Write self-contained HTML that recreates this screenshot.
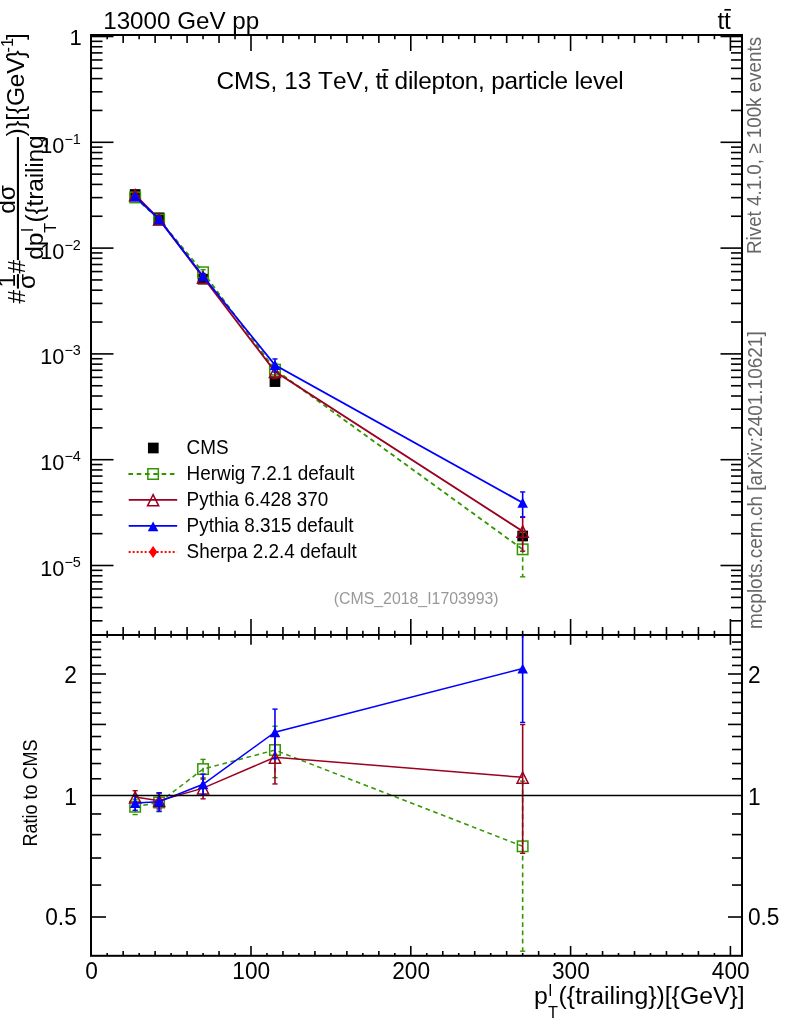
<!DOCTYPE html>
<html lang="en">
<head>
<meta charset="utf-8">
<title>CMS, 13 TeV, tt dilepton, particle level</title>
<style>
html,body{margin:0;padding:0;background:#fff;}
body{width:786px;height:1024px;overflow:hidden;}
svg{display:block;}
text{white-space:pre;font-kerning:none;}
</style>
</head>
<body>
<svg width="786" height="1024" viewBox="0 0 786 1024" font-family='"Liberation Sans", "DejaVu Sans", sans-serif'>
<rect x="0" y="0" width="786" height="1024" fill="#fff"/>
<g id="ticks">
<line x1="91" y1="36.5" x2="113.5" y2="36.5" stroke="#000" stroke-width="1.6"/>
<line x1="742" y1="36.5" x2="720.5" y2="36.5" stroke="#000" stroke-width="1.6"/>
<line x1="91" y1="142.3" x2="113.5" y2="142.3" stroke="#000" stroke-width="1.6"/>
<line x1="742" y1="142.3" x2="720.5" y2="142.3" stroke="#000" stroke-width="1.6"/>
<line x1="91" y1="110.45" x2="102.5" y2="110.45" stroke="#000" stroke-width="1.6"/>
<line x1="742" y1="110.45" x2="731" y2="110.45" stroke="#000" stroke-width="1.6"/>
<line x1="91" y1="91.82" x2="102.5" y2="91.82" stroke="#000" stroke-width="1.6"/>
<line x1="742" y1="91.82" x2="731" y2="91.82" stroke="#000" stroke-width="1.6"/>
<line x1="91" y1="78.6" x2="102.5" y2="78.6" stroke="#000" stroke-width="1.6"/>
<line x1="742" y1="78.6" x2="731" y2="78.6" stroke="#000" stroke-width="1.6"/>
<line x1="91" y1="68.35" x2="102.5" y2="68.35" stroke="#000" stroke-width="1.6"/>
<line x1="742" y1="68.35" x2="731" y2="68.35" stroke="#000" stroke-width="1.6"/>
<line x1="91" y1="59.97" x2="102.5" y2="59.97" stroke="#000" stroke-width="1.6"/>
<line x1="742" y1="59.97" x2="731" y2="59.97" stroke="#000" stroke-width="1.6"/>
<line x1="91" y1="52.89" x2="102.5" y2="52.89" stroke="#000" stroke-width="1.6"/>
<line x1="742" y1="52.89" x2="731" y2="52.89" stroke="#000" stroke-width="1.6"/>
<line x1="91" y1="46.75" x2="102.5" y2="46.75" stroke="#000" stroke-width="1.6"/>
<line x1="742" y1="46.75" x2="731" y2="46.75" stroke="#000" stroke-width="1.6"/>
<line x1="91" y1="41.34" x2="102.5" y2="41.34" stroke="#000" stroke-width="1.6"/>
<line x1="742" y1="41.34" x2="731" y2="41.34" stroke="#000" stroke-width="1.6"/>
<line x1="91" y1="248.1" x2="113.5" y2="248.1" stroke="#000" stroke-width="1.6"/>
<line x1="742" y1="248.1" x2="720.5" y2="248.1" stroke="#000" stroke-width="1.6"/>
<line x1="91" y1="216.25" x2="102.5" y2="216.25" stroke="#000" stroke-width="1.6"/>
<line x1="742" y1="216.25" x2="731" y2="216.25" stroke="#000" stroke-width="1.6"/>
<line x1="91" y1="197.62" x2="102.5" y2="197.62" stroke="#000" stroke-width="1.6"/>
<line x1="742" y1="197.62" x2="731" y2="197.62" stroke="#000" stroke-width="1.6"/>
<line x1="91" y1="184.4" x2="102.5" y2="184.4" stroke="#000" stroke-width="1.6"/>
<line x1="742" y1="184.4" x2="731" y2="184.4" stroke="#000" stroke-width="1.6"/>
<line x1="91" y1="174.15" x2="102.5" y2="174.15" stroke="#000" stroke-width="1.6"/>
<line x1="742" y1="174.15" x2="731" y2="174.15" stroke="#000" stroke-width="1.6"/>
<line x1="91" y1="165.77" x2="102.5" y2="165.77" stroke="#000" stroke-width="1.6"/>
<line x1="742" y1="165.77" x2="731" y2="165.77" stroke="#000" stroke-width="1.6"/>
<line x1="91" y1="158.69" x2="102.5" y2="158.69" stroke="#000" stroke-width="1.6"/>
<line x1="742" y1="158.69" x2="731" y2="158.69" stroke="#000" stroke-width="1.6"/>
<line x1="91" y1="152.55" x2="102.5" y2="152.55" stroke="#000" stroke-width="1.6"/>
<line x1="742" y1="152.55" x2="731" y2="152.55" stroke="#000" stroke-width="1.6"/>
<line x1="91" y1="147.14" x2="102.5" y2="147.14" stroke="#000" stroke-width="1.6"/>
<line x1="742" y1="147.14" x2="731" y2="147.14" stroke="#000" stroke-width="1.6"/>
<line x1="91" y1="353.9" x2="113.5" y2="353.9" stroke="#000" stroke-width="1.6"/>
<line x1="742" y1="353.9" x2="720.5" y2="353.9" stroke="#000" stroke-width="1.6"/>
<line x1="91" y1="322.05" x2="102.5" y2="322.05" stroke="#000" stroke-width="1.6"/>
<line x1="742" y1="322.05" x2="731" y2="322.05" stroke="#000" stroke-width="1.6"/>
<line x1="91" y1="303.42" x2="102.5" y2="303.42" stroke="#000" stroke-width="1.6"/>
<line x1="742" y1="303.42" x2="731" y2="303.42" stroke="#000" stroke-width="1.6"/>
<line x1="91" y1="290.2" x2="102.5" y2="290.2" stroke="#000" stroke-width="1.6"/>
<line x1="742" y1="290.2" x2="731" y2="290.2" stroke="#000" stroke-width="1.6"/>
<line x1="91" y1="279.95" x2="102.5" y2="279.95" stroke="#000" stroke-width="1.6"/>
<line x1="742" y1="279.95" x2="731" y2="279.95" stroke="#000" stroke-width="1.6"/>
<line x1="91" y1="271.57" x2="102.5" y2="271.57" stroke="#000" stroke-width="1.6"/>
<line x1="742" y1="271.57" x2="731" y2="271.57" stroke="#000" stroke-width="1.6"/>
<line x1="91" y1="264.49" x2="102.5" y2="264.49" stroke="#000" stroke-width="1.6"/>
<line x1="742" y1="264.49" x2="731" y2="264.49" stroke="#000" stroke-width="1.6"/>
<line x1="91" y1="258.35" x2="102.5" y2="258.35" stroke="#000" stroke-width="1.6"/>
<line x1="742" y1="258.35" x2="731" y2="258.35" stroke="#000" stroke-width="1.6"/>
<line x1="91" y1="252.94" x2="102.5" y2="252.94" stroke="#000" stroke-width="1.6"/>
<line x1="742" y1="252.94" x2="731" y2="252.94" stroke="#000" stroke-width="1.6"/>
<line x1="91" y1="459.7" x2="113.5" y2="459.7" stroke="#000" stroke-width="1.6"/>
<line x1="742" y1="459.7" x2="720.5" y2="459.7" stroke="#000" stroke-width="1.6"/>
<line x1="91" y1="427.85" x2="102.5" y2="427.85" stroke="#000" stroke-width="1.6"/>
<line x1="742" y1="427.85" x2="731" y2="427.85" stroke="#000" stroke-width="1.6"/>
<line x1="91" y1="409.22" x2="102.5" y2="409.22" stroke="#000" stroke-width="1.6"/>
<line x1="742" y1="409.22" x2="731" y2="409.22" stroke="#000" stroke-width="1.6"/>
<line x1="91" y1="396" x2="102.5" y2="396" stroke="#000" stroke-width="1.6"/>
<line x1="742" y1="396" x2="731" y2="396" stroke="#000" stroke-width="1.6"/>
<line x1="91" y1="385.75" x2="102.5" y2="385.75" stroke="#000" stroke-width="1.6"/>
<line x1="742" y1="385.75" x2="731" y2="385.75" stroke="#000" stroke-width="1.6"/>
<line x1="91" y1="377.37" x2="102.5" y2="377.37" stroke="#000" stroke-width="1.6"/>
<line x1="742" y1="377.37" x2="731" y2="377.37" stroke="#000" stroke-width="1.6"/>
<line x1="91" y1="370.29" x2="102.5" y2="370.29" stroke="#000" stroke-width="1.6"/>
<line x1="742" y1="370.29" x2="731" y2="370.29" stroke="#000" stroke-width="1.6"/>
<line x1="91" y1="364.15" x2="102.5" y2="364.15" stroke="#000" stroke-width="1.6"/>
<line x1="742" y1="364.15" x2="731" y2="364.15" stroke="#000" stroke-width="1.6"/>
<line x1="91" y1="358.74" x2="102.5" y2="358.74" stroke="#000" stroke-width="1.6"/>
<line x1="742" y1="358.74" x2="731" y2="358.74" stroke="#000" stroke-width="1.6"/>
<line x1="91" y1="565.5" x2="113.5" y2="565.5" stroke="#000" stroke-width="1.6"/>
<line x1="742" y1="565.5" x2="720.5" y2="565.5" stroke="#000" stroke-width="1.6"/>
<line x1="91" y1="533.65" x2="102.5" y2="533.65" stroke="#000" stroke-width="1.6"/>
<line x1="742" y1="533.65" x2="731" y2="533.65" stroke="#000" stroke-width="1.6"/>
<line x1="91" y1="515.02" x2="102.5" y2="515.02" stroke="#000" stroke-width="1.6"/>
<line x1="742" y1="515.02" x2="731" y2="515.02" stroke="#000" stroke-width="1.6"/>
<line x1="91" y1="501.8" x2="102.5" y2="501.8" stroke="#000" stroke-width="1.6"/>
<line x1="742" y1="501.8" x2="731" y2="501.8" stroke="#000" stroke-width="1.6"/>
<line x1="91" y1="491.55" x2="102.5" y2="491.55" stroke="#000" stroke-width="1.6"/>
<line x1="742" y1="491.55" x2="731" y2="491.55" stroke="#000" stroke-width="1.6"/>
<line x1="91" y1="483.17" x2="102.5" y2="483.17" stroke="#000" stroke-width="1.6"/>
<line x1="742" y1="483.17" x2="731" y2="483.17" stroke="#000" stroke-width="1.6"/>
<line x1="91" y1="476.09" x2="102.5" y2="476.09" stroke="#000" stroke-width="1.6"/>
<line x1="742" y1="476.09" x2="731" y2="476.09" stroke="#000" stroke-width="1.6"/>
<line x1="91" y1="469.95" x2="102.5" y2="469.95" stroke="#000" stroke-width="1.6"/>
<line x1="742" y1="469.95" x2="731" y2="469.95" stroke="#000" stroke-width="1.6"/>
<line x1="91" y1="464.54" x2="102.5" y2="464.54" stroke="#000" stroke-width="1.6"/>
<line x1="742" y1="464.54" x2="731" y2="464.54" stroke="#000" stroke-width="1.6"/>
<line x1="91" y1="620.82" x2="102.5" y2="620.82" stroke="#000" stroke-width="1.6"/>
<line x1="742" y1="620.82" x2="731" y2="620.82" stroke="#000" stroke-width="1.6"/>
<line x1="91" y1="607.6" x2="102.5" y2="607.6" stroke="#000" stroke-width="1.6"/>
<line x1="742" y1="607.6" x2="731" y2="607.6" stroke="#000" stroke-width="1.6"/>
<line x1="91" y1="597.35" x2="102.5" y2="597.35" stroke="#000" stroke-width="1.6"/>
<line x1="742" y1="597.35" x2="731" y2="597.35" stroke="#000" stroke-width="1.6"/>
<line x1="91" y1="588.97" x2="102.5" y2="588.97" stroke="#000" stroke-width="1.6"/>
<line x1="742" y1="588.97" x2="731" y2="588.97" stroke="#000" stroke-width="1.6"/>
<line x1="91" y1="581.89" x2="102.5" y2="581.89" stroke="#000" stroke-width="1.6"/>
<line x1="742" y1="581.89" x2="731" y2="581.89" stroke="#000" stroke-width="1.6"/>
<line x1="91" y1="575.75" x2="102.5" y2="575.75" stroke="#000" stroke-width="1.6"/>
<line x1="742" y1="575.75" x2="731" y2="575.75" stroke="#000" stroke-width="1.6"/>
<line x1="91" y1="570.34" x2="102.5" y2="570.34" stroke="#000" stroke-width="1.6"/>
<line x1="742" y1="570.34" x2="731" y2="570.34" stroke="#000" stroke-width="1.6"/>
<line x1="107.18" y1="35" x2="107.18" y2="39.2" stroke="#000" stroke-width="1.6"/>
<line x1="107.18" y1="635" x2="107.18" y2="630.8" stroke="#000" stroke-width="1.6"/>
<line x1="107.18" y1="635" x2="107.18" y2="637.8" stroke="#000" stroke-width="1.6"/>
<line x1="107.18" y1="955.8" x2="107.18" y2="953" stroke="#000" stroke-width="1.6"/>
<line x1="123.16" y1="35" x2="123.16" y2="43" stroke="#000" stroke-width="1.6"/>
<line x1="123.16" y1="635" x2="123.16" y2="627" stroke="#000" stroke-width="1.6"/>
<line x1="123.16" y1="635" x2="123.16" y2="639.8" stroke="#000" stroke-width="1.6"/>
<line x1="123.16" y1="955.8" x2="123.16" y2="951" stroke="#000" stroke-width="1.6"/>
<line x1="139.14" y1="35" x2="139.14" y2="39.2" stroke="#000" stroke-width="1.6"/>
<line x1="139.14" y1="635" x2="139.14" y2="630.8" stroke="#000" stroke-width="1.6"/>
<line x1="139.14" y1="635" x2="139.14" y2="637.8" stroke="#000" stroke-width="1.6"/>
<line x1="139.14" y1="955.8" x2="139.14" y2="953" stroke="#000" stroke-width="1.6"/>
<line x1="155.12" y1="35" x2="155.12" y2="43" stroke="#000" stroke-width="1.6"/>
<line x1="155.12" y1="635" x2="155.12" y2="627" stroke="#000" stroke-width="1.6"/>
<line x1="155.12" y1="635" x2="155.12" y2="639.8" stroke="#000" stroke-width="1.6"/>
<line x1="155.12" y1="955.8" x2="155.12" y2="951" stroke="#000" stroke-width="1.6"/>
<line x1="171.1" y1="35" x2="171.1" y2="39.2" stroke="#000" stroke-width="1.6"/>
<line x1="171.1" y1="635" x2="171.1" y2="630.8" stroke="#000" stroke-width="1.6"/>
<line x1="171.1" y1="635" x2="171.1" y2="637.8" stroke="#000" stroke-width="1.6"/>
<line x1="171.1" y1="955.8" x2="171.1" y2="953" stroke="#000" stroke-width="1.6"/>
<line x1="187.08" y1="35" x2="187.08" y2="43" stroke="#000" stroke-width="1.6"/>
<line x1="187.08" y1="635" x2="187.08" y2="627" stroke="#000" stroke-width="1.6"/>
<line x1="187.08" y1="635" x2="187.08" y2="639.8" stroke="#000" stroke-width="1.6"/>
<line x1="187.08" y1="955.8" x2="187.08" y2="951" stroke="#000" stroke-width="1.6"/>
<line x1="203.06" y1="35" x2="203.06" y2="39.2" stroke="#000" stroke-width="1.6"/>
<line x1="203.06" y1="635" x2="203.06" y2="630.8" stroke="#000" stroke-width="1.6"/>
<line x1="203.06" y1="635" x2="203.06" y2="637.8" stroke="#000" stroke-width="1.6"/>
<line x1="203.06" y1="955.8" x2="203.06" y2="953" stroke="#000" stroke-width="1.6"/>
<line x1="219.04" y1="35" x2="219.04" y2="43" stroke="#000" stroke-width="1.6"/>
<line x1="219.04" y1="635" x2="219.04" y2="627" stroke="#000" stroke-width="1.6"/>
<line x1="219.04" y1="635" x2="219.04" y2="639.8" stroke="#000" stroke-width="1.6"/>
<line x1="219.04" y1="955.8" x2="219.04" y2="951" stroke="#000" stroke-width="1.6"/>
<line x1="235.02" y1="35" x2="235.02" y2="39.2" stroke="#000" stroke-width="1.6"/>
<line x1="235.02" y1="635" x2="235.02" y2="630.8" stroke="#000" stroke-width="1.6"/>
<line x1="235.02" y1="635" x2="235.02" y2="637.8" stroke="#000" stroke-width="1.6"/>
<line x1="235.02" y1="955.8" x2="235.02" y2="953" stroke="#000" stroke-width="1.6"/>
<line x1="251" y1="35" x2="251" y2="51" stroke="#000" stroke-width="1.6"/>
<line x1="251" y1="635" x2="251" y2="619" stroke="#000" stroke-width="1.6"/>
<line x1="251" y1="635" x2="251" y2="644.8" stroke="#000" stroke-width="1.6"/>
<line x1="251" y1="955.8" x2="251" y2="946" stroke="#000" stroke-width="1.6"/>
<line x1="266.98" y1="35" x2="266.98" y2="39.2" stroke="#000" stroke-width="1.6"/>
<line x1="266.98" y1="635" x2="266.98" y2="630.8" stroke="#000" stroke-width="1.6"/>
<line x1="266.98" y1="635" x2="266.98" y2="637.8" stroke="#000" stroke-width="1.6"/>
<line x1="266.98" y1="955.8" x2="266.98" y2="953" stroke="#000" stroke-width="1.6"/>
<line x1="282.96" y1="35" x2="282.96" y2="43" stroke="#000" stroke-width="1.6"/>
<line x1="282.96" y1="635" x2="282.96" y2="627" stroke="#000" stroke-width="1.6"/>
<line x1="282.96" y1="635" x2="282.96" y2="639.8" stroke="#000" stroke-width="1.6"/>
<line x1="282.96" y1="955.8" x2="282.96" y2="951" stroke="#000" stroke-width="1.6"/>
<line x1="298.94" y1="35" x2="298.94" y2="39.2" stroke="#000" stroke-width="1.6"/>
<line x1="298.94" y1="635" x2="298.94" y2="630.8" stroke="#000" stroke-width="1.6"/>
<line x1="298.94" y1="635" x2="298.94" y2="637.8" stroke="#000" stroke-width="1.6"/>
<line x1="298.94" y1="955.8" x2="298.94" y2="953" stroke="#000" stroke-width="1.6"/>
<line x1="314.92" y1="35" x2="314.92" y2="43" stroke="#000" stroke-width="1.6"/>
<line x1="314.92" y1="635" x2="314.92" y2="627" stroke="#000" stroke-width="1.6"/>
<line x1="314.92" y1="635" x2="314.92" y2="639.8" stroke="#000" stroke-width="1.6"/>
<line x1="314.92" y1="955.8" x2="314.92" y2="951" stroke="#000" stroke-width="1.6"/>
<line x1="330.9" y1="35" x2="330.9" y2="39.2" stroke="#000" stroke-width="1.6"/>
<line x1="330.9" y1="635" x2="330.9" y2="630.8" stroke="#000" stroke-width="1.6"/>
<line x1="330.9" y1="635" x2="330.9" y2="637.8" stroke="#000" stroke-width="1.6"/>
<line x1="330.9" y1="955.8" x2="330.9" y2="953" stroke="#000" stroke-width="1.6"/>
<line x1="346.88" y1="35" x2="346.88" y2="43" stroke="#000" stroke-width="1.6"/>
<line x1="346.88" y1="635" x2="346.88" y2="627" stroke="#000" stroke-width="1.6"/>
<line x1="346.88" y1="635" x2="346.88" y2="639.8" stroke="#000" stroke-width="1.6"/>
<line x1="346.88" y1="955.8" x2="346.88" y2="951" stroke="#000" stroke-width="1.6"/>
<line x1="362.86" y1="35" x2="362.86" y2="39.2" stroke="#000" stroke-width="1.6"/>
<line x1="362.86" y1="635" x2="362.86" y2="630.8" stroke="#000" stroke-width="1.6"/>
<line x1="362.86" y1="635" x2="362.86" y2="637.8" stroke="#000" stroke-width="1.6"/>
<line x1="362.86" y1="955.8" x2="362.86" y2="953" stroke="#000" stroke-width="1.6"/>
<line x1="378.84" y1="35" x2="378.84" y2="43" stroke="#000" stroke-width="1.6"/>
<line x1="378.84" y1="635" x2="378.84" y2="627" stroke="#000" stroke-width="1.6"/>
<line x1="378.84" y1="635" x2="378.84" y2="639.8" stroke="#000" stroke-width="1.6"/>
<line x1="378.84" y1="955.8" x2="378.84" y2="951" stroke="#000" stroke-width="1.6"/>
<line x1="394.82" y1="35" x2="394.82" y2="39.2" stroke="#000" stroke-width="1.6"/>
<line x1="394.82" y1="635" x2="394.82" y2="630.8" stroke="#000" stroke-width="1.6"/>
<line x1="394.82" y1="635" x2="394.82" y2="637.8" stroke="#000" stroke-width="1.6"/>
<line x1="394.82" y1="955.8" x2="394.82" y2="953" stroke="#000" stroke-width="1.6"/>
<line x1="410.8" y1="35" x2="410.8" y2="51" stroke="#000" stroke-width="1.6"/>
<line x1="410.8" y1="635" x2="410.8" y2="619" stroke="#000" stroke-width="1.6"/>
<line x1="410.8" y1="635" x2="410.8" y2="644.8" stroke="#000" stroke-width="1.6"/>
<line x1="410.8" y1="955.8" x2="410.8" y2="946" stroke="#000" stroke-width="1.6"/>
<line x1="426.78" y1="35" x2="426.78" y2="39.2" stroke="#000" stroke-width="1.6"/>
<line x1="426.78" y1="635" x2="426.78" y2="630.8" stroke="#000" stroke-width="1.6"/>
<line x1="426.78" y1="635" x2="426.78" y2="637.8" stroke="#000" stroke-width="1.6"/>
<line x1="426.78" y1="955.8" x2="426.78" y2="953" stroke="#000" stroke-width="1.6"/>
<line x1="442.76" y1="35" x2="442.76" y2="43" stroke="#000" stroke-width="1.6"/>
<line x1="442.76" y1="635" x2="442.76" y2="627" stroke="#000" stroke-width="1.6"/>
<line x1="442.76" y1="635" x2="442.76" y2="639.8" stroke="#000" stroke-width="1.6"/>
<line x1="442.76" y1="955.8" x2="442.76" y2="951" stroke="#000" stroke-width="1.6"/>
<line x1="458.74" y1="35" x2="458.74" y2="39.2" stroke="#000" stroke-width="1.6"/>
<line x1="458.74" y1="635" x2="458.74" y2="630.8" stroke="#000" stroke-width="1.6"/>
<line x1="458.74" y1="635" x2="458.74" y2="637.8" stroke="#000" stroke-width="1.6"/>
<line x1="458.74" y1="955.8" x2="458.74" y2="953" stroke="#000" stroke-width="1.6"/>
<line x1="474.72" y1="35" x2="474.72" y2="43" stroke="#000" stroke-width="1.6"/>
<line x1="474.72" y1="635" x2="474.72" y2="627" stroke="#000" stroke-width="1.6"/>
<line x1="474.72" y1="635" x2="474.72" y2="639.8" stroke="#000" stroke-width="1.6"/>
<line x1="474.72" y1="955.8" x2="474.72" y2="951" stroke="#000" stroke-width="1.6"/>
<line x1="490.7" y1="35" x2="490.7" y2="39.2" stroke="#000" stroke-width="1.6"/>
<line x1="490.7" y1="635" x2="490.7" y2="630.8" stroke="#000" stroke-width="1.6"/>
<line x1="490.7" y1="635" x2="490.7" y2="637.8" stroke="#000" stroke-width="1.6"/>
<line x1="490.7" y1="955.8" x2="490.7" y2="953" stroke="#000" stroke-width="1.6"/>
<line x1="506.68" y1="35" x2="506.68" y2="43" stroke="#000" stroke-width="1.6"/>
<line x1="506.68" y1="635" x2="506.68" y2="627" stroke="#000" stroke-width="1.6"/>
<line x1="506.68" y1="635" x2="506.68" y2="639.8" stroke="#000" stroke-width="1.6"/>
<line x1="506.68" y1="955.8" x2="506.68" y2="951" stroke="#000" stroke-width="1.6"/>
<line x1="522.66" y1="35" x2="522.66" y2="39.2" stroke="#000" stroke-width="1.6"/>
<line x1="522.66" y1="635" x2="522.66" y2="630.8" stroke="#000" stroke-width="1.6"/>
<line x1="522.66" y1="635" x2="522.66" y2="637.8" stroke="#000" stroke-width="1.6"/>
<line x1="522.66" y1="955.8" x2="522.66" y2="953" stroke="#000" stroke-width="1.6"/>
<line x1="538.64" y1="35" x2="538.64" y2="43" stroke="#000" stroke-width="1.6"/>
<line x1="538.64" y1="635" x2="538.64" y2="627" stroke="#000" stroke-width="1.6"/>
<line x1="538.64" y1="635" x2="538.64" y2="639.8" stroke="#000" stroke-width="1.6"/>
<line x1="538.64" y1="955.8" x2="538.64" y2="951" stroke="#000" stroke-width="1.6"/>
<line x1="554.62" y1="35" x2="554.62" y2="39.2" stroke="#000" stroke-width="1.6"/>
<line x1="554.62" y1="635" x2="554.62" y2="630.8" stroke="#000" stroke-width="1.6"/>
<line x1="554.62" y1="635" x2="554.62" y2="637.8" stroke="#000" stroke-width="1.6"/>
<line x1="554.62" y1="955.8" x2="554.62" y2="953" stroke="#000" stroke-width="1.6"/>
<line x1="570.6" y1="35" x2="570.6" y2="51" stroke="#000" stroke-width="1.6"/>
<line x1="570.6" y1="635" x2="570.6" y2="619" stroke="#000" stroke-width="1.6"/>
<line x1="570.6" y1="635" x2="570.6" y2="644.8" stroke="#000" stroke-width="1.6"/>
<line x1="570.6" y1="955.8" x2="570.6" y2="946" stroke="#000" stroke-width="1.6"/>
<line x1="586.58" y1="35" x2="586.58" y2="39.2" stroke="#000" stroke-width="1.6"/>
<line x1="586.58" y1="635" x2="586.58" y2="630.8" stroke="#000" stroke-width="1.6"/>
<line x1="586.58" y1="635" x2="586.58" y2="637.8" stroke="#000" stroke-width="1.6"/>
<line x1="586.58" y1="955.8" x2="586.58" y2="953" stroke="#000" stroke-width="1.6"/>
<line x1="602.56" y1="35" x2="602.56" y2="43" stroke="#000" stroke-width="1.6"/>
<line x1="602.56" y1="635" x2="602.56" y2="627" stroke="#000" stroke-width="1.6"/>
<line x1="602.56" y1="635" x2="602.56" y2="639.8" stroke="#000" stroke-width="1.6"/>
<line x1="602.56" y1="955.8" x2="602.56" y2="951" stroke="#000" stroke-width="1.6"/>
<line x1="618.54" y1="35" x2="618.54" y2="39.2" stroke="#000" stroke-width="1.6"/>
<line x1="618.54" y1="635" x2="618.54" y2="630.8" stroke="#000" stroke-width="1.6"/>
<line x1="618.54" y1="635" x2="618.54" y2="637.8" stroke="#000" stroke-width="1.6"/>
<line x1="618.54" y1="955.8" x2="618.54" y2="953" stroke="#000" stroke-width="1.6"/>
<line x1="634.52" y1="35" x2="634.52" y2="43" stroke="#000" stroke-width="1.6"/>
<line x1="634.52" y1="635" x2="634.52" y2="627" stroke="#000" stroke-width="1.6"/>
<line x1="634.52" y1="635" x2="634.52" y2="639.8" stroke="#000" stroke-width="1.6"/>
<line x1="634.52" y1="955.8" x2="634.52" y2="951" stroke="#000" stroke-width="1.6"/>
<line x1="650.5" y1="35" x2="650.5" y2="39.2" stroke="#000" stroke-width="1.6"/>
<line x1="650.5" y1="635" x2="650.5" y2="630.8" stroke="#000" stroke-width="1.6"/>
<line x1="650.5" y1="635" x2="650.5" y2="637.8" stroke="#000" stroke-width="1.6"/>
<line x1="650.5" y1="955.8" x2="650.5" y2="953" stroke="#000" stroke-width="1.6"/>
<line x1="666.48" y1="35" x2="666.48" y2="43" stroke="#000" stroke-width="1.6"/>
<line x1="666.48" y1="635" x2="666.48" y2="627" stroke="#000" stroke-width="1.6"/>
<line x1="666.48" y1="635" x2="666.48" y2="639.8" stroke="#000" stroke-width="1.6"/>
<line x1="666.48" y1="955.8" x2="666.48" y2="951" stroke="#000" stroke-width="1.6"/>
<line x1="682.46" y1="35" x2="682.46" y2="39.2" stroke="#000" stroke-width="1.6"/>
<line x1="682.46" y1="635" x2="682.46" y2="630.8" stroke="#000" stroke-width="1.6"/>
<line x1="682.46" y1="635" x2="682.46" y2="637.8" stroke="#000" stroke-width="1.6"/>
<line x1="682.46" y1="955.8" x2="682.46" y2="953" stroke="#000" stroke-width="1.6"/>
<line x1="698.44" y1="35" x2="698.44" y2="43" stroke="#000" stroke-width="1.6"/>
<line x1="698.44" y1="635" x2="698.44" y2="627" stroke="#000" stroke-width="1.6"/>
<line x1="698.44" y1="635" x2="698.44" y2="639.8" stroke="#000" stroke-width="1.6"/>
<line x1="698.44" y1="955.8" x2="698.44" y2="951" stroke="#000" stroke-width="1.6"/>
<line x1="714.42" y1="35" x2="714.42" y2="39.2" stroke="#000" stroke-width="1.6"/>
<line x1="714.42" y1="635" x2="714.42" y2="630.8" stroke="#000" stroke-width="1.6"/>
<line x1="714.42" y1="635" x2="714.42" y2="637.8" stroke="#000" stroke-width="1.6"/>
<line x1="714.42" y1="955.8" x2="714.42" y2="953" stroke="#000" stroke-width="1.6"/>
<line x1="730.4" y1="35" x2="730.4" y2="51" stroke="#000" stroke-width="1.6"/>
<line x1="730.4" y1="635" x2="730.4" y2="619" stroke="#000" stroke-width="1.6"/>
<line x1="730.4" y1="635" x2="730.4" y2="644.8" stroke="#000" stroke-width="1.6"/>
<line x1="730.4" y1="955.8" x2="730.4" y2="946" stroke="#000" stroke-width="1.6"/>
<line x1="91" y1="917" x2="106" y2="917" stroke="#000" stroke-width="1.6"/>
<line x1="742" y1="917" x2="728" y2="917" stroke="#000" stroke-width="1.6"/>
<line x1="91" y1="885.04" x2="101.2" y2="885.04" stroke="#000" stroke-width="1.6"/>
<line x1="742" y1="885.04" x2="732" y2="885.04" stroke="#000" stroke-width="1.6"/>
<line x1="91" y1="858.02" x2="101.2" y2="858.02" stroke="#000" stroke-width="1.6"/>
<line x1="742" y1="858.02" x2="732" y2="858.02" stroke="#000" stroke-width="1.6"/>
<line x1="91" y1="834.61" x2="101.2" y2="834.61" stroke="#000" stroke-width="1.6"/>
<line x1="742" y1="834.61" x2="732" y2="834.61" stroke="#000" stroke-width="1.6"/>
<line x1="91" y1="813.97" x2="101.2" y2="813.97" stroke="#000" stroke-width="1.6"/>
<line x1="742" y1="813.97" x2="732" y2="813.97" stroke="#000" stroke-width="1.6"/>
<line x1="91" y1="778.79" x2="101.2" y2="778.79" stroke="#000" stroke-width="1.6"/>
<line x1="742" y1="778.79" x2="732" y2="778.79" stroke="#000" stroke-width="1.6"/>
<line x1="91" y1="763.54" x2="101.2" y2="763.54" stroke="#000" stroke-width="1.6"/>
<line x1="742" y1="763.54" x2="732" y2="763.54" stroke="#000" stroke-width="1.6"/>
<line x1="91" y1="749.51" x2="101.2" y2="749.51" stroke="#000" stroke-width="1.6"/>
<line x1="742" y1="749.51" x2="732" y2="749.51" stroke="#000" stroke-width="1.6"/>
<line x1="91" y1="736.52" x2="101.2" y2="736.52" stroke="#000" stroke-width="1.6"/>
<line x1="742" y1="736.52" x2="732" y2="736.52" stroke="#000" stroke-width="1.6"/>
<line x1="91" y1="724.43" x2="106" y2="724.43" stroke="#000" stroke-width="1.6"/>
<line x1="742" y1="724.43" x2="728" y2="724.43" stroke="#000" stroke-width="1.6"/>
<line x1="91" y1="713.12" x2="101.2" y2="713.12" stroke="#000" stroke-width="1.6"/>
<line x1="742" y1="713.12" x2="732" y2="713.12" stroke="#000" stroke-width="1.6"/>
<line x1="91" y1="702.49" x2="101.2" y2="702.49" stroke="#000" stroke-width="1.6"/>
<line x1="742" y1="702.49" x2="732" y2="702.49" stroke="#000" stroke-width="1.6"/>
<line x1="91" y1="692.47" x2="101.2" y2="692.47" stroke="#000" stroke-width="1.6"/>
<line x1="742" y1="692.47" x2="732" y2="692.47" stroke="#000" stroke-width="1.6"/>
<line x1="91" y1="683" x2="101.2" y2="683" stroke="#000" stroke-width="1.6"/>
<line x1="742" y1="683" x2="732" y2="683" stroke="#000" stroke-width="1.6"/>
<line x1="91" y1="674" x2="106" y2="674" stroke="#000" stroke-width="1.6"/>
<line x1="742" y1="674" x2="728" y2="674" stroke="#000" stroke-width="1.6"/>
<line x1="91" y1="665.45" x2="101.2" y2="665.45" stroke="#000" stroke-width="1.6"/>
<line x1="742" y1="665.45" x2="732" y2="665.45" stroke="#000" stroke-width="1.6"/>
<line x1="91" y1="657.3" x2="101.2" y2="657.3" stroke="#000" stroke-width="1.6"/>
<line x1="742" y1="657.3" x2="732" y2="657.3" stroke="#000" stroke-width="1.6"/>
<line x1="91" y1="649.51" x2="101.2" y2="649.51" stroke="#000" stroke-width="1.6"/>
<line x1="742" y1="649.51" x2="732" y2="649.51" stroke="#000" stroke-width="1.6"/>
<line x1="91" y1="642.05" x2="101.2" y2="642.05" stroke="#000" stroke-width="1.6"/>
<line x1="742" y1="642.05" x2="732" y2="642.05" stroke="#000" stroke-width="1.6"/>
</g>
<g id="main-data">
<rect x="129.8" y="189.15" width="10.7" height="10.7" fill="#000"/>
<rect x="153.77" y="212.45" width="10.7" height="10.7" fill="#000"/>
<rect x="197.71" y="273.85" width="10.7" height="10.7" fill="#000"/>
<rect x="269.62" y="376.25" width="10.7" height="10.7" fill="#000"/>
<rect x="517.31" y="530.65" width="10.7" height="10.7" fill="#000"/>
<polyline points="135.15,197.44 159.12,219.63 203.06,272.28 274.97,369.69 522.66,549.32" fill="none" stroke="#329600" stroke-width="1.85" stroke-dasharray="4.7 3.6"/>
<line x1="132.55" y1="195.48" x2="137.75" y2="195.48" stroke="#329600" stroke-width="1.4"/>
<line x1="132.55" y1="199.49" x2="137.75" y2="199.49" stroke="#329600" stroke-width="1.4"/>
<line x1="135.15" y1="195.48" x2="135.15" y2="199.49" stroke="#329600" stroke-width="1.6" stroke-dasharray="4.7 3.6"/>
<line x1="156.52" y1="217.34" x2="161.72" y2="217.34" stroke="#329600" stroke-width="1.4"/>
<line x1="156.52" y1="222.03" x2="161.72" y2="222.03" stroke="#329600" stroke-width="1.4"/>
<line x1="159.12" y1="217.34" x2="159.12" y2="222.03" stroke="#329600" stroke-width="1.6" stroke-dasharray="4.7 3.6"/>
<line x1="200.46" y1="269.73" x2="205.66" y2="269.73" stroke="#329600" stroke-width="1.4"/>
<line x1="200.46" y1="274.97" x2="205.66" y2="274.97" stroke="#329600" stroke-width="1.4"/>
<line x1="203.06" y1="269.73" x2="203.06" y2="274.97" stroke="#329600" stroke-width="1.6" stroke-dasharray="4.7 3.6"/>
<line x1="272.37" y1="363.43" x2="277.57" y2="363.43" stroke="#329600" stroke-width="1.4"/>
<line x1="272.37" y1="376.93" x2="277.57" y2="376.93" stroke="#329600" stroke-width="1.4"/>
<line x1="274.97" y1="363.43" x2="274.97" y2="376.93" stroke="#329600" stroke-width="1.6" stroke-dasharray="4.7 3.6"/>
<line x1="520.06" y1="532.23" x2="525.26" y2="532.23" stroke="#329600" stroke-width="1.4"/>
<line x1="520.06" y1="576.81" x2="525.26" y2="576.81" stroke="#329600" stroke-width="1.4"/>
<line x1="522.66" y1="532.23" x2="522.66" y2="576.81" stroke="#329600" stroke-width="1.6" stroke-dasharray="4.7 3.6"/>
<rect x="129.9" y="192.19" width="10.5" height="10.5" fill="none" stroke="#329600" stroke-width="1.5"/>
<rect x="153.87" y="214.38" width="10.5" height="10.5" fill="none" stroke="#329600" stroke-width="1.5"/>
<rect x="197.81" y="267.03" width="10.5" height="10.5" fill="none" stroke="#329600" stroke-width="1.5"/>
<rect x="269.72" y="364.44" width="10.5" height="10.5" fill="none" stroke="#329600" stroke-width="1.5"/>
<rect x="517.41" y="544.07" width="10.5" height="10.5" fill="none" stroke="#329600" stroke-width="1.5"/>
<polyline points="135.15,194.92 159.12,219.15 203.06,277.27 274.97,371.57 522.66,531.25" fill="none" stroke="#9a0020" stroke-width="1.85"/>
<line x1="132.55" y1="193.23" x2="137.75" y2="193.23" stroke="#9a0020" stroke-width="1.4"/>
<line x1="132.55" y1="196.66" x2="137.75" y2="196.66" stroke="#9a0020" stroke-width="1.4"/>
<line x1="135.15" y1="193.23" x2="135.15" y2="196.66" stroke="#9a0020" stroke-width="1.6"/>
<line x1="156.52" y1="217.07" x2="161.72" y2="217.07" stroke="#9a0020" stroke-width="1.4"/>
<line x1="156.52" y1="221.33" x2="161.72" y2="221.33" stroke="#9a0020" stroke-width="1.4"/>
<line x1="159.12" y1="217.07" x2="159.12" y2="221.33" stroke="#9a0020" stroke-width="1.6"/>
<line x1="200.46" y1="274.62" x2="205.66" y2="274.62" stroke="#9a0020" stroke-width="1.4"/>
<line x1="200.46" y1="280.08" x2="205.66" y2="280.08" stroke="#9a0020" stroke-width="1.4"/>
<line x1="203.06" y1="274.62" x2="203.06" y2="280.08" stroke="#9a0020" stroke-width="1.6"/>
<line x1="272.37" y1="365.49" x2="277.57" y2="365.49" stroke="#9a0020" stroke-width="1.4"/>
<line x1="272.37" y1="378.58" x2="277.57" y2="378.58" stroke="#9a0020" stroke-width="1.4"/>
<line x1="274.97" y1="365.49" x2="274.97" y2="378.58" stroke="#9a0020" stroke-width="1.6"/>
<line x1="520.06" y1="517.4" x2="525.26" y2="517.4" stroke="#9a0020" stroke-width="1.4"/>
<line x1="520.06" y1="551.16" x2="525.26" y2="551.16" stroke="#9a0020" stroke-width="1.4"/>
<line x1="522.66" y1="517.4" x2="522.66" y2="551.16" stroke="#9a0020" stroke-width="1.6"/>
<path d="M135.15 189.62 L140.75 200.82 L129.55 200.82 Z" fill="none" stroke="#9a0020" stroke-width="1.5" stroke-linejoin="miter"/>
<path d="M159.12 213.85 L164.72 225.05 L153.52 225.05 Z" fill="none" stroke="#9a0020" stroke-width="1.5" stroke-linejoin="miter"/>
<path d="M203.06 271.97 L208.66 283.17 L197.46 283.17 Z" fill="none" stroke="#9a0020" stroke-width="1.5" stroke-linejoin="miter"/>
<path d="M274.97 366.27 L280.57 377.47 L269.37 377.47 Z" fill="none" stroke="#9a0020" stroke-width="1.5" stroke-linejoin="miter"/>
<path d="M522.66 525.95 L528.26 537.15 L517.06 537.15 Z" fill="none" stroke="#9a0020" stroke-width="1.5" stroke-linejoin="miter"/>
<polyline points="135.15,196.47 159.12,219.45 203.06,276.25 274.97,365.01 522.66,502.73" fill="none" stroke="#0000ff" stroke-width="1.85"/>
<line x1="132.55" y1="194.64" x2="137.75" y2="194.64" stroke="#0000ff" stroke-width="1.4"/>
<line x1="132.55" y1="198.38" x2="137.75" y2="198.38" stroke="#0000ff" stroke-width="1.4"/>
<line x1="135.15" y1="194.64" x2="135.15" y2="198.38" stroke="#0000ff" stroke-width="1.6"/>
<line x1="156.52" y1="217.13" x2="161.72" y2="217.13" stroke="#0000ff" stroke-width="1.4"/>
<line x1="156.52" y1="221.9" x2="161.72" y2="221.9" stroke="#0000ff" stroke-width="1.4"/>
<line x1="159.12" y1="217.13" x2="159.12" y2="221.9" stroke="#0000ff" stroke-width="1.6"/>
<line x1="200.46" y1="273.6" x2="205.66" y2="273.6" stroke="#0000ff" stroke-width="1.4"/>
<line x1="200.46" y1="279.06" x2="205.66" y2="279.06" stroke="#0000ff" stroke-width="1.4"/>
<line x1="203.06" y1="273.6" x2="203.06" y2="279.06" stroke="#0000ff" stroke-width="1.6"/>
<line x1="272.37" y1="358.95" x2="277.57" y2="358.95" stroke="#0000ff" stroke-width="1.4"/>
<line x1="272.37" y1="371.98" x2="277.57" y2="371.98" stroke="#0000ff" stroke-width="1.4"/>
<line x1="274.97" y1="358.95" x2="274.97" y2="371.98" stroke="#0000ff" stroke-width="1.6"/>
<line x1="520.06" y1="491.94" x2="525.26" y2="491.94" stroke="#0000ff" stroke-width="1.4"/>
<line x1="520.06" y1="516.85" x2="525.26" y2="516.85" stroke="#0000ff" stroke-width="1.4"/>
<line x1="522.66" y1="491.94" x2="522.66" y2="516.85" stroke="#0000ff" stroke-width="1.6"/>
<path d="M135.15 191.57 L140.45 201.47 L129.84 201.47 Z" fill="#0000ff"/>
<path d="M159.12 214.55 L164.42 224.45 L153.81 224.45 Z" fill="#0000ff"/>
<path d="M203.06 271.35 L208.36 281.25 L197.76 281.25 Z" fill="#0000ff"/>
<path d="M274.97 360.11 L280.27 370.01 L269.67 370.01 Z" fill="#0000ff"/>
<path d="M522.66 497.83 L527.96 507.73 L517.36 507.73 Z" fill="#0000ff"/>
</g>
<g id="ratio-data">
<polyline points="135.15,806.72 159.12,802.47 203.06,769.09 274.97,750.05 522.66,846.3" fill="none" stroke="#329600" stroke-width="1.5" stroke-dasharray="4.7 3.6"/>
<line x1="132.55" y1="799.22" x2="137.75" y2="799.22" stroke="#329600" stroke-width="1.4"/>
<line x1="132.55" y1="814.55" x2="137.75" y2="814.55" stroke="#329600" stroke-width="1.4"/>
<line x1="135.15" y1="799.22" x2="135.15" y2="814.55" stroke="#329600" stroke-width="1.6" stroke-dasharray="4.7 3.6"/>
<line x1="156.52" y1="793.76" x2="161.72" y2="793.76" stroke="#329600" stroke-width="1.4"/>
<line x1="156.52" y1="811.65" x2="161.72" y2="811.65" stroke="#329600" stroke-width="1.4"/>
<line x1="159.12" y1="793.76" x2="159.12" y2="811.65" stroke="#329600" stroke-width="1.6" stroke-dasharray="4.7 3.6"/>
<line x1="200.46" y1="759.39" x2="205.66" y2="759.39" stroke="#329600" stroke-width="1.4"/>
<line x1="200.46" y1="779.37" x2="205.66" y2="779.37" stroke="#329600" stroke-width="1.4"/>
<line x1="203.06" y1="759.39" x2="203.06" y2="779.37" stroke="#329600" stroke-width="1.6" stroke-dasharray="4.7 3.6"/>
<line x1="272.37" y1="726.19" x2="277.57" y2="726.19" stroke="#329600" stroke-width="1.4"/>
<line x1="272.37" y1="777.68" x2="277.57" y2="777.68" stroke="#329600" stroke-width="1.4"/>
<line x1="274.97" y1="726.19" x2="274.97" y2="777.68" stroke="#329600" stroke-width="1.6" stroke-dasharray="4.7 3.6"/>
<line x1="520.06" y1="781.14" x2="525.26" y2="781.14" stroke="#329600" stroke-width="1.4"/>
<line x1="520.06" y1="951.18" x2="525.26" y2="951.18" stroke="#329600" stroke-width="1.4"/>
<line x1="522.66" y1="781.14" x2="522.66" y2="951.18" stroke="#329600" stroke-width="1.6" stroke-dasharray="4.7 3.6"/>
<rect x="129.9" y="801.47" width="10.5" height="10.5" fill="none" stroke="#329600" stroke-width="1.5"/>
<rect x="153.87" y="797.22" width="10.5" height="10.5" fill="none" stroke="#329600" stroke-width="1.5"/>
<rect x="197.81" y="763.84" width="10.5" height="10.5" fill="none" stroke="#329600" stroke-width="1.5"/>
<rect x="269.72" y="744.8" width="10.5" height="10.5" fill="none" stroke="#329600" stroke-width="1.5"/>
<rect x="517.41" y="841.05" width="10.5" height="10.5" fill="none" stroke="#329600" stroke-width="1.5"/>
<polyline points="135.15,797.08 159.12,800.66 203.06,788.12 274.97,757.23 522.66,777.37" fill="none" stroke="#9a0020" stroke-width="1.5"/>
<line x1="132.55" y1="790.66" x2="137.75" y2="790.66" stroke="#9a0020" stroke-width="1.4"/>
<line x1="132.55" y1="803.75" x2="137.75" y2="803.75" stroke="#9a0020" stroke-width="1.4"/>
<line x1="135.15" y1="790.66" x2="135.15" y2="803.75" stroke="#9a0020" stroke-width="1.6"/>
<line x1="156.52" y1="792.72" x2="161.72" y2="792.72" stroke="#9a0020" stroke-width="1.4"/>
<line x1="156.52" y1="808.98" x2="161.72" y2="808.98" stroke="#9a0020" stroke-width="1.4"/>
<line x1="159.12" y1="792.72" x2="159.12" y2="808.98" stroke="#9a0020" stroke-width="1.6"/>
<line x1="200.46" y1="778.01" x2="205.66" y2="778.01" stroke="#9a0020" stroke-width="1.4"/>
<line x1="200.46" y1="798.84" x2="205.66" y2="798.84" stroke="#9a0020" stroke-width="1.4"/>
<line x1="203.06" y1="778.01" x2="203.06" y2="798.84" stroke="#9a0020" stroke-width="1.6"/>
<line x1="272.37" y1="734.04" x2="277.57" y2="734.04" stroke="#9a0020" stroke-width="1.4"/>
<line x1="272.37" y1="783.97" x2="277.57" y2="783.97" stroke="#9a0020" stroke-width="1.4"/>
<line x1="274.97" y1="734.04" x2="274.97" y2="783.97" stroke="#9a0020" stroke-width="1.6"/>
<line x1="520.06" y1="724.55" x2="525.26" y2="724.55" stroke="#9a0020" stroke-width="1.4"/>
<line x1="520.06" y1="853.32" x2="525.26" y2="853.32" stroke="#9a0020" stroke-width="1.4"/>
<line x1="522.66" y1="724.55" x2="522.66" y2="853.32" stroke="#9a0020" stroke-width="1.6"/>
<path d="M135.15 791.78 L140.75 802.98 L129.55 802.98 Z" fill="none" stroke="#9a0020" stroke-width="1.5" stroke-linejoin="miter"/>
<path d="M159.12 795.36 L164.72 806.56 L153.52 806.56 Z" fill="none" stroke="#9a0020" stroke-width="1.5" stroke-linejoin="miter"/>
<path d="M203.06 782.82 L208.66 794.02 L197.46 794.02 Z" fill="none" stroke="#9a0020" stroke-width="1.5" stroke-linejoin="miter"/>
<path d="M274.97 751.93 L280.57 763.13 L269.37 763.13 Z" fill="none" stroke="#9a0020" stroke-width="1.5" stroke-linejoin="miter"/>
<path d="M522.66 772.07 L528.26 783.27 L517.06 783.27 Z" fill="none" stroke="#9a0020" stroke-width="1.5" stroke-linejoin="miter"/>
<polyline points="135.15,803.02 159.12,801.8 203.06,784.25 274.97,732.19 522.66,668.57" fill="none" stroke="#0000ff" stroke-width="1.5"/>
<line x1="132.55" y1="796.03" x2="137.75" y2="796.03" stroke="#0000ff" stroke-width="1.4"/>
<line x1="132.55" y1="810.31" x2="137.75" y2="810.31" stroke="#0000ff" stroke-width="1.4"/>
<line x1="135.15" y1="796.03" x2="135.15" y2="810.31" stroke="#0000ff" stroke-width="1.6"/>
<line x1="156.52" y1="792.94" x2="161.72" y2="792.94" stroke="#0000ff" stroke-width="1.4"/>
<line x1="156.52" y1="811.13" x2="161.72" y2="811.13" stroke="#0000ff" stroke-width="1.4"/>
<line x1="159.12" y1="792.94" x2="159.12" y2="811.13" stroke="#0000ff" stroke-width="1.6"/>
<line x1="200.46" y1="774.14" x2="205.66" y2="774.14" stroke="#0000ff" stroke-width="1.4"/>
<line x1="200.46" y1="794.97" x2="205.66" y2="794.97" stroke="#0000ff" stroke-width="1.4"/>
<line x1="203.06" y1="774.14" x2="203.06" y2="794.97" stroke="#0000ff" stroke-width="1.6"/>
<line x1="272.37" y1="709.11" x2="277.57" y2="709.11" stroke="#0000ff" stroke-width="1.4"/>
<line x1="272.37" y1="758.79" x2="277.57" y2="758.79" stroke="#0000ff" stroke-width="1.4"/>
<line x1="274.97" y1="709.11" x2="274.97" y2="758.79" stroke="#0000ff" stroke-width="1.6"/>
<line x1="520.06" y1="722.45" x2="525.26" y2="722.45" stroke="#0000ff" stroke-width="1.4"/>
<line x1="522.66" y1="635" x2="522.66" y2="722.45" stroke="#0000ff" stroke-width="1.6"/>
<path d="M135.15 798.12 L140.45 808.02 L129.84 808.02 Z" fill="#0000ff"/>
<path d="M159.12 796.9 L164.42 806.8 L153.81 806.8 Z" fill="#0000ff"/>
<path d="M203.06 779.35 L208.36 789.25 L197.76 789.25 Z" fill="#0000ff"/>
<path d="M274.97 727.29 L280.27 737.19 L269.67 737.19 Z" fill="#0000ff"/>
<path d="M522.66 663.67 L527.96 673.57 L517.36 673.57 Z" fill="#0000ff"/>
<line x1="91" y1="795.5" x2="742" y2="795.5" stroke="#000" stroke-width="1.3"/>
</g>
<g id="frame" fill="none" stroke="#000" stroke-width="2">
<rect x="91" y="35" width="651" height="600"/>
<rect x="91" y="635" width="651" height="320.8"/>
</g>
<g id="labels">
<text x="81.8" y="44.7" font-size="22" text-anchor="end" fill="#000">1</text>
<text x="80.8" y="152.8" font-size="21.7" text-anchor="end">10<tspan dy="-9.1" font-size="14.4">−1</tspan></text>
<text x="80.8" y="258.6" font-size="21.7" text-anchor="end">10<tspan dy="-9.1" font-size="14.4">−2</tspan></text>
<text x="80.8" y="364.4" font-size="21.7" text-anchor="end">10<tspan dy="-9.1" font-size="14.4">−3</tspan></text>
<text x="80.8" y="470.2" font-size="21.7" text-anchor="end">10<tspan dy="-9.1" font-size="14.4">−4</tspan></text>
<text x="80.8" y="576" font-size="21.7" text-anchor="end">10<tspan dy="-9.1" font-size="14.4">−5</tspan></text>
<text transform="translate(76.8 683.2) scale(1 1.05)" font-size="22.7" text-anchor="end" fill="#000">2</text>
<text transform="translate(747.9 683.1) scale(1 1.05)" font-size="22.7" text-anchor="start" fill="#000">2</text>
<text transform="translate(76.8 805.3) scale(1 1.05)" font-size="22.7" text-anchor="end" fill="#000">1</text>
<text transform="translate(747.9 805.2) scale(1 1.05)" font-size="22.7" text-anchor="start" fill="#000">1</text>
<text transform="translate(76.8 925.4) scale(1 1.05)" font-size="22.7" text-anchor="end" fill="#000">0.5</text>
<text transform="translate(747.9 925.3) scale(1 1.05)" font-size="22.7" text-anchor="start" fill="#000">0.5</text>
<text transform="translate(91.5 978.5) scale(1 1.05)" font-size="22.7" text-anchor="middle" fill="#000">0</text>
<text transform="translate(251.3 978.5) scale(1 1.05)" font-size="22.7" text-anchor="middle" fill="#000">100</text>
<text transform="translate(411.1 978.5) scale(1 1.05)" font-size="22.7" text-anchor="middle" fill="#000">200</text>
<text transform="translate(570.9 978.5) scale(1 1.05)" font-size="22.7" text-anchor="middle" fill="#000">300</text>
<text transform="translate(730.7 978.5) scale(1 1.05)" font-size="22.7" text-anchor="middle" fill="#000">400</text>
</g>
<g id="titles">
<text x="103.2" y="29.3" font-size="24.2" text-anchor="start" fill="#000">13000 GeV pp</text>
<text x="717.6" y="29.3" font-size="24.4" text-anchor="start" fill="#000">t</text>
<text x="724" y="29.3" font-size="24.4" text-anchor="start" fill="#000">t</text>
<line x1="724.4" y1="9.8" x2="730.9" y2="9.8" stroke="#000" stroke-width="1.7"/>
<text x="216.4" y="89.4" font-size="24.4" text-anchor="start" fill="#000">CMS, 13 TeV,</text>
<text x="375.6" y="89.4" font-size="24.4" text-anchor="start" fill="#000">t</text>
<text x="381.6" y="89.4" font-size="24.4" text-anchor="start" fill="#000">t</text>
<line x1="382.2" y1="69.9" x2="388.4" y2="69.9" stroke="#000" stroke-width="1.7"/>
<text x="394.6" y="89.4" font-size="24.4" text-anchor="start" fill="#000" letter-spacing="-0.24">dilepton, particle level</text>
<text x="416.2" y="604.2" font-size="15.85" text-anchor="middle" fill="#999">(CMS_2018_I1703993)</text>
<text x="534" y="1004.2" font-size="24.8">p</text>
<text x="548.4" y="995.6" font-size="16.3">l</text>
<text x="548" y="1017.6" font-size="16.3">T</text>
<text x="558.6" y="1004.2" font-size="24.8">({trailing})[{GeV}]</text>
<text transform="translate(760.8 254) rotate(-90) scale(1 1.08)" font-size="18.8" fill="#666">Rivet 4.1.0, ≥ 100k events</text>
<text transform="translate(762.4 629.0) rotate(-90) scale(1 1.08)" font-size="19.0" fill="#666">mcplots.cern.ch [arXiv:2401.10621]</text>
<text transform="translate(36.5 846.4) rotate(-90) scale(1 1.08)" font-size="18">Ratio to CMS</text>
</g>
<g id="ytitle" transform="translate(0 1024) rotate(-90)">
<text x="720.6" y="25" font-size="24.6" text-anchor="start" fill="#000">#</text>
<text x="743.4" y="14.8" font-size="24.6" text-anchor="middle" fill="#000">1</text>
<rect x="735.4" y="16.9" width="14.5" height="2.1" fill="#000"/>
<text x="742.6" y="34.6" font-size="24.6" text-anchor="middle" fill="#000">σ</text>
<text x="750.6" y="25" font-size="24.6" text-anchor="start" fill="#000">#</text>
<rect x="763.9" y="16.9" width="123" height="2.1" fill="#000"/>
<text x="824.6" y="14.8" font-size="24.6" text-anchor="middle" fill="#000">dσ</text>
<text x="764.2" y="43.2" font-size="24.6" text-anchor="start" fill="#000">dp</text>
<text x="792.2" y="33" font-size="16.3" text-anchor="start" fill="#000">l</text>
<text x="791.2" y="55.8" font-size="16.3" text-anchor="start" fill="#000">T</text>
<text x="801.6" y="43.2" font-size="24.6" text-anchor="start" fill="#000" letter-spacing="-0.2">({trailing</text>
<text x="887.4" y="24.4" font-size="24.6" text-anchor="start" fill="#000" letter-spacing="-0.22">)}[{GeV</text>
<text x="965.4" y="24.4" font-size="24.6" text-anchor="start" fill="#000">}</text>
<text x="971.6" y="13" font-size="16.3" text-anchor="start" fill="#000">-1</text>
<text x="983.9" y="24.4" font-size="24.6" text-anchor="start" fill="#000">]</text>
</g>
<g id="legend">
<rect x="147.95" y="442.65" width="10.7" height="10.7" fill="#000"/>
<line x1="128.4" y1="474" x2="175" y2="474" stroke="#329600" stroke-width="1.85" stroke-dasharray="4.6 3.7"/>
<rect x="147.85" y="468.75" width="10.5" height="10.5" fill="none" stroke="#329600" stroke-width="1.5"/>
<line x1="128.7" y1="499.9" x2="177.2" y2="499.9" stroke="#9a0020" stroke-width="1.85"/>
<path d="M153.1 494.6 L158.7 505.8 L147.5 505.8 Z" fill="none" stroke="#9a0020" stroke-width="1.5" stroke-linejoin="miter"/>
<line x1="128.7" y1="525.9" x2="177.2" y2="525.9" stroke="#0000ff" stroke-width="1.85"/>
<path d="M153.1 521.4 L158.4 531.3 L147.8 531.3 Z" fill="#0000ff"/>
<line x1="128.7" y1="552" x2="176.8" y2="552" stroke="#ff0000" stroke-width="1.85" stroke-dasharray="1.9 2.1"/>
<path d="M153.1 545.9 L157.3 552 L153.1 558.1 L148.9 552 Z" fill="#ff0000"/>
<text transform="translate(186.6 454.2) scale(1 1.05)" font-size="18.9" text-anchor="start" fill="#000">CMS</text>
<text transform="translate(186.6 480.2) scale(1 1.05)" font-size="18.9" text-anchor="start" fill="#000">Herwig 7.2.1 default</text>
<text transform="translate(186.6 506.1) scale(1 1.05)" font-size="18.9" text-anchor="start" fill="#000">Pythia 6.428 370</text>
<text transform="translate(186.6 532.1) scale(1 1.05)" font-size="18.9" text-anchor="start" fill="#000">Pythia 8.315 default</text>
<text transform="translate(186.6 558.2) scale(1 1.05)" font-size="18.9" text-anchor="start" fill="#000">Sherpa 2.2.4 default</text>
</g>
</svg>
</body>
</html>
